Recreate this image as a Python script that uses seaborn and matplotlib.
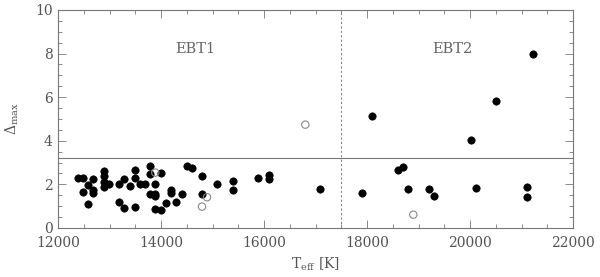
import pandas as pd
import matplotlib
matplotlib.use('Agg')
import matplotlib.pyplot as plt
from matplotlib.ticker import MultipleLocator
import seaborn as sns

# filled circles
teff_full = [12394, 12491, 12491, 12588, 12588, 12685, 12685, 12685, 12893, 12893,
             12893, 12893, 12996, 13190, 13190, 13287, 13287, 13392, 13489, 13489,
             13489, 13592, 13695, 13786, 13786, 13786, 13889, 13889, 13889, 13889,
             13994, 13994, 14097, 14194, 14194, 14297, 14402, 14499, 14596, 14796,
             14796, 15093, 15392, 15392, 15889, 16103, 16103, 17093, 17903, 18103,
             18602, 18705, 18802, 19204, 19305, 20013, 20110, 20510, 21106, 21106,
             21217]
dmax_full = [2.28, 2.28, 1.67, 1.97, 1.09, 2.23, 1.74, 1.59, 2.61, 2.39,
             2.12, 1.87, 2.03, 2.03, 1.19, 2.23, 0.90, 1.93, 2.65, 2.31,
             0.95, 2.03, 2.00, 2.86, 2.46, 1.56, 2.03, 1.56, 1.47, 0.86,
             2.54, 0.83, 1.13, 1.74, 1.59, 1.18, 1.56, 2.86, 2.74, 2.39,
             1.56, 2.00, 2.14, 1.74, 2.28, 2.43, 2.26, 1.80, 1.59, 5.15,
             2.67, 2.81, 1.80, 1.81, 1.47, 4.04, 1.82, 5.81, 1.88, 1.44,
             7.97]

# open circles
teff_open = [13889, 14893, 14796, 16802, 18899]
dmax_open = [2.54, 1.41, 0.98, 4.74, 0.61]

threshold = 3.2
t_split = 17500

gray = '#555555'

sns.set_style('ticks')
plt.rcParams['font.family'] = ['DejaVu Serif']
plt.rcParams['mathtext.fontset'] = 'dejavuserif'
plt.rcParams['text.color'] = gray
plt.rcParams['axes.labelcolor'] = gray
plt.rcParams['xtick.color'] = gray
plt.rcParams['ytick.color'] = gray

full = pd.DataFrame({'teff': teff_full, 'dmax': dmax_full})
opn = pd.DataFrame({'teff': teff_open, 'dmax': dmax_open})

fig = plt.figure(figsize=(6, 2.77), dpi=100)
ax = fig.add_axes([0.0967, 0.177, 0.8583, 0.787])

ax.axhline(threshold, color='#777777', lw=0.8, zorder=1)
ax.axvline(t_split, color='#888888', lw=0.8, ls=(0, (2, 2)), zorder=1)

sns.scatterplot(data=full, x='teff', y='dmax', ax=ax, color='black', s=28,
                edgecolor='black', linewidth=0.5, zorder=3)
sns.scatterplot(data=opn, x='teff', y='dmax', ax=ax, facecolor='none', s=28,
                edgecolor='#888888', linewidth=0.8, zorder=3)

ax.text(14660, 8.2, 'EBT1', ha='center', va='center', fontsize=10.5, color='#666666')
ax.text(19650, 8.2, 'EBT2', ha='center', va='center', fontsize=10.5, color='#666666')

ax.set_xlim(12000, 22000)
ax.set_ylim(0, 10)
ax.xaxis.set_major_locator(MultipleLocator(2000))
ax.xaxis.set_minor_locator(MultipleLocator(500))
ax.yaxis.set_major_locator(MultipleLocator(2))
ax.yaxis.set_minor_locator(MultipleLocator(0.5))
ax.tick_params(which='both', direction='in', top=True, right=True,
               labelsize=10, width=0.6, color='#777777')
ax.tick_params(which='major', length=6)
ax.tick_params(which='minor', length=3)
ax.tick_params(axis='x', which='major', pad=6)
ax.tick_params(axis='y', which='major', pad=4)
for sp in ax.spines.values():
    sp.set_color('#777777')
    sp.set_linewidth(0.8)

ax.set_xlabel(r'T$_{\rm eff}$ [K]', fontsize=10, labelpad=4)
ax.set_ylabel(r'$\Delta_{\rm max}$', fontsize=10, labelpad=10)

fig.savefig('out.png', dpi=100)
